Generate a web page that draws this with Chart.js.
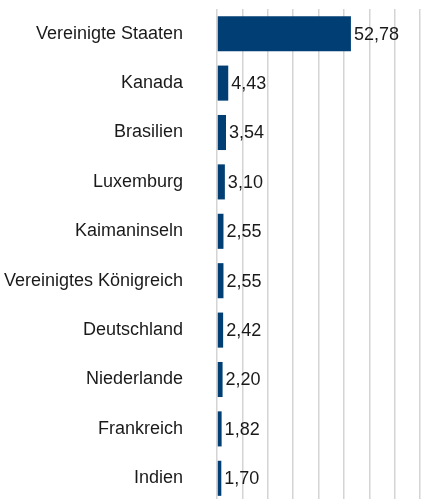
<!DOCTYPE html>
<html>
<head>
<meta charset="utf-8">
<script src="https://cdn.jsdelivr.net/npm/chart.js@4/dist/chart.umd.min.js"></script>
<style>
  html, body { margin: 0; padding: 0; background: #fff; overflow: hidden; }
  #wrap { width: 438px; height: 512px; }
</style>
</head>
<body>
<div id="wrap"><canvas id="barChart" width="438" height="512"></canvas></div>
<script>
// Daten
const laender = ['Vereinigte Staaten', 'Kanada', 'Brasilien', 'Luxemburg', 'Kaimaninseln',
    'Vereinigtes Königreich', 'Deutschland', 'Niederlande', 'Frankreich', 'Indien'];
const anteile = [52.78, 4.43, 3.54, 3.10, 2.55, 2.55, 2.42, 2.20, 1.82, 1.70];
const achseMax = 80;
const achseSchritt = 10;

// Werte rechts neben die Balken schreiben
const wertLabels = {
    id: 'wertLabels',
    afterDatasetsDraw(chart) {
        const ctx = chart.ctx;
        const meta = chart.getDatasetMeta(0);
        ctx.save();
        ctx.font = '18px "Liberation Sans", Arial, sans-serif';
        ctx.fillStyle = '#1a1a1a';
        ctx.textAlign = 'left';
        ctx.textBaseline = 'middle';
        meta.data.forEach((bar, i) => {
            const txt = anteile[i].toFixed(2).replace('.', ',');
            ctx.fillText(txt, bar.x + 3, bar.y + 1);
        });
        ctx.restore();
    }
};

const ctx = document.getElementById('barChart').getContext('2d');
new Chart(ctx, {
    type: 'bar',
    data: {
        labels: laender,
        datasets: [{
            data: anteile,
            backgroundColor: '#003e74',
            borderWidth: 0,
            barPercentage: 0.71,
            categoryPercentage: 1
        }]
    },
    options: {
        indexAxis: 'y',
        responsive: false,
        animation: false,
        layout: { padding: { top: 0, right: 18, left: 0, bottom: 0 } },
        plugins: {
            legend: { display: false },
            tooltip: { enabled: false }
        },
        scales: {
            x: {
                min: 0,
                max: achseMax,
                ticks: { display: false, stepSize: achseSchritt },
                grid: { color: '#d4d4d4', lineWidth: 1.5, drawTicks: false },
                border: { display: false }
            },
            y: {
                // unsichtbare Tick-Striche als Abstand zwischen Beschriftung und Achse
                grid: { display: true, drawOnChartArea: false, drawTicks: true, tickLength: 34, tickColor: 'rgba(0,0,0,0)' },
                border: { display: false },
                ticks: {
                    color: '#1a1a1a',
                    padding: 0,
                    font: { family: '"Liberation Sans", Arial, sans-serif', size: 18, lineHeight: 1 }
                },
                afterFit(scale) { scale.width = 217; }
            }
        }
    },
    plugins: [wertLabels]
});
</script>
</body>
</html>
